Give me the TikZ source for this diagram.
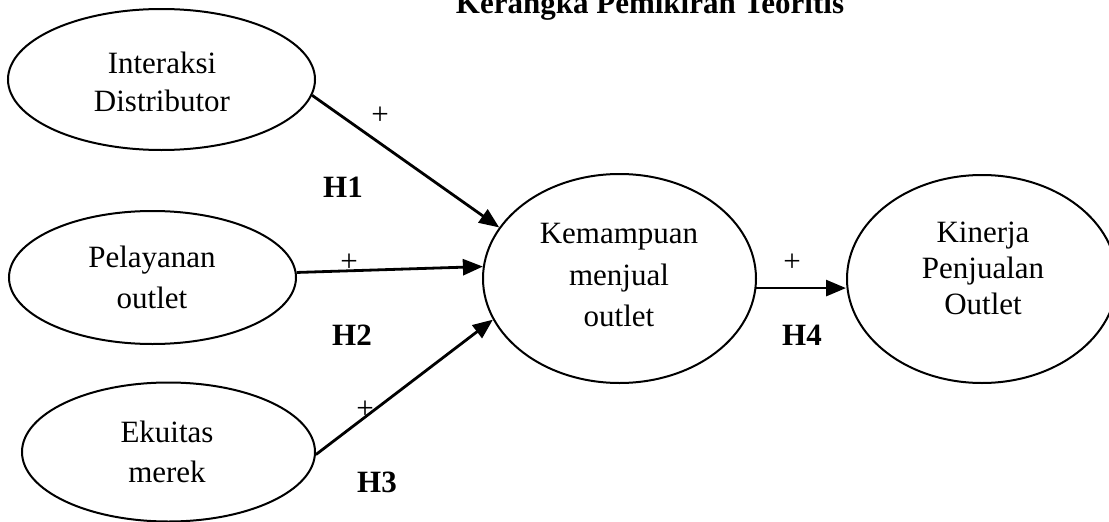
\documentclass[tikz,border=0pt]{standalone}
\usepackage{fontspec}
\setmainfont{Liberation Serif}
\usetikzlibrary{arrows.meta,shapes.geometric}

\tikzset{
  construct/.style={draw=black, line width=2pt, ellipse, inner sep=0pt},
  label text/.style={align=center, inner sep=0pt},
  path arrow/.style={line width=2.8pt, -{Triangle[length=20pt,width=16pt]}},
  sign/.style={inner sep=0pt, font=\fontsize{31}{36}\selectfont},
  hyp/.style={inner sep=0pt, font=\fontsize{31}{36}\selectfont\bfseries},
}

\begin{document}
\begin{tikzpicture}[x=1pt, y=-1pt]
  \useasboundingbox (0,0) rectangle (1109,522);
  \clip (0,0) rectangle (1109,522);

  % title
  \node[anchor=base, inner sep=0pt, font=\fontsize{31}{36}\selectfont\bfseries] (title) at (650,13) {Kerangka Pemikiran Teoritis};

  % constructs
  \node[construct, minimum width=307pt, minimum height=141pt] (e1) at (161.5,79.5) {};
  \node[construct, minimum width=287pt, minimum height=133pt] (e2) at (152.5,277.5) {};
  \node[construct, minimum width=293pt, minimum height=139pt] (e3) at (168.5,452) {};
  \node[construct, minimum width=273pt, minimum height=209pt] (e4) at (619.5,278.5) {};
  \node[construct, minimum width=270pt, minimum height=208pt] (e5) at (982,279) {};

  % construct names
  \node[label text, font=\fontsize{31}{38}\selectfont] (t1) at (162,81.5) {Interaksi\\Distributor};
  \node[label text, font=\fontsize{31}{41}\selectfont] (t2) at (152,277) {Pelayanan\\outlet};
  \node[label text, font=\fontsize{31}{40}\selectfont] (t3) at (167,451.5) {Ekuitas\\merek};
  \node[label text, font=\fontsize{31}{41.5}\selectfont] (t4) at (619,275) {Kemampuan\\menjual\\outlet};
  \node[label text, font=\fontsize{31}{36}\selectfont] (t5) at (983,268.5) {Kinerja\\Penjualan\\Outlet};

  % hypothesised paths
  \draw[path arrow] (e1.-6) -- (e4.157);
  \draw[path arrow] (e2.2) -- (e4.175);
  \draw[path arrow] (e3.-1) -- (e4.198);
  \draw[path arrow] (e4.-4) -- (e4.-4 -| e5.west);

  % signs and hypothesis labels
  \node[sign] (p1) at (380,116) {+};
  \node[sign] (p2) at (349,263) {+};
  \node[sign] (p3) at (365,410) {+};
  \node[sign] (p4) at (792,263) {+};
  \node[hyp] (h1) at (343,187) {H1};
  \node[hyp] (h2) at (352,335) {H2};
  \node[hyp] (h3) at (377,482) {H3};
  \node[hyp] (h4) at (802,335) {H4};
\end{tikzpicture}
\end{document}
